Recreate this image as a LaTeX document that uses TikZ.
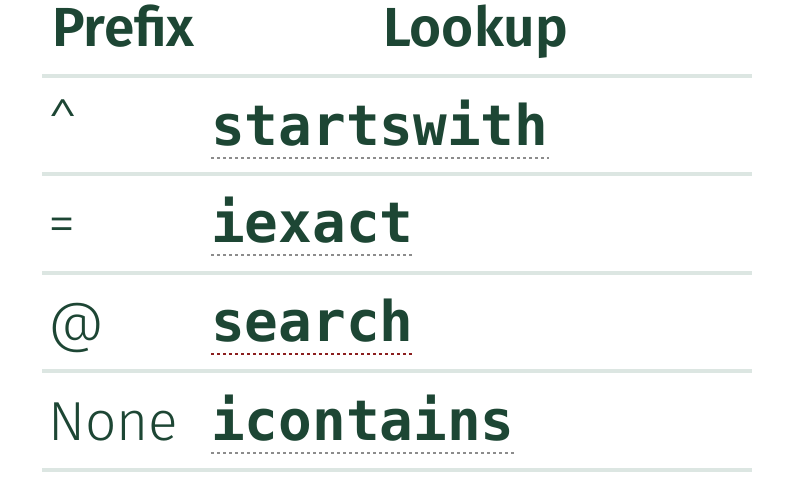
\documentclass[tikz,border=0pt]{standalone}
\usepackage{fontspec}
\IfFontExistsTF{FiraSans-Book.otf}{%
  \setmainfont{FiraSans}[Extension=.otf, UprightFont=*-Book, BoldFont=*-SemiBold]}{%
  \setmainfont{Fira Sans}[UprightFont=* Light, BoldFont=* SemiBold]}
\newfontfamily\codefont{DejaVu Sans Mono}
\usepackage{xcolor}
\definecolor{ink}{HTML}{1D4634}
\definecolor{rulegrey}{HTML}{DCE6E2}
\definecolor{dotgrey}{HTML}{8C8C8C}
\definecolor{dotred}{HTML}{8B1E1E}

\begin{document}
\begin{tikzpicture}[x=1pt,y=-1pt,
  cell/.style={anchor=base west, inner sep=0pt, text=ink, font=\fontsize{55}{60}\selectfont},
  head/.style={cell, font=\fontsize{55}{60}\selectfont\bfseries},
  code/.style={cell, font=\fontsize{56}{60}\selectfont\codefont\bfseries},
  dotline/.style={dotgrey, line width=2.5pt, dash pattern=on 3pt off 3pt}]
  \useasboundingbox (0,0) rectangle (794,498);

  % header
  \node[head] (hpre) at (52,46) {Prefix};
  \node[head] (hlook) at (383,46) {Lookup};

  % rules
  \foreach \y in {76,174,273,371,470}
    \draw[rulegrey, line width=3.5pt] (42,\y) -- (752,\y);

  % rows
  \node[cell] (pre1) at (48,145) {\^{}};
  \node[code] (look1) at (211,145) {startswith};
  \node[cell] (pre2) at (48,242) {=};
  \node[code] (look2) at (211,242) {iexact};
  \node[cell] (pre3) at (48,341) {@};
  \node[code] (look3) at (211,341) {search};
  \node[cell] (pre4) at (48,440) {None};
  \node[code] (look4) at (211,440) {icontains};

  % dotted underlines
  \draw[dotline] ([yshift=-13pt]look1.base west) -- ([yshift=-13pt]look1.base east);
  \draw[dotline] ([yshift=-13pt]look2.base west) -- ([yshift=-13pt]look2.base east);
  \draw[dotline, dotred] ([yshift=-13pt]look3.base west) -- ([yshift=-13pt]look3.base east);
  \draw[dotline] ([yshift=-13pt]look4.base west) -- ([yshift=-13pt]look4.base east);
\end{tikzpicture}
\end{document}
